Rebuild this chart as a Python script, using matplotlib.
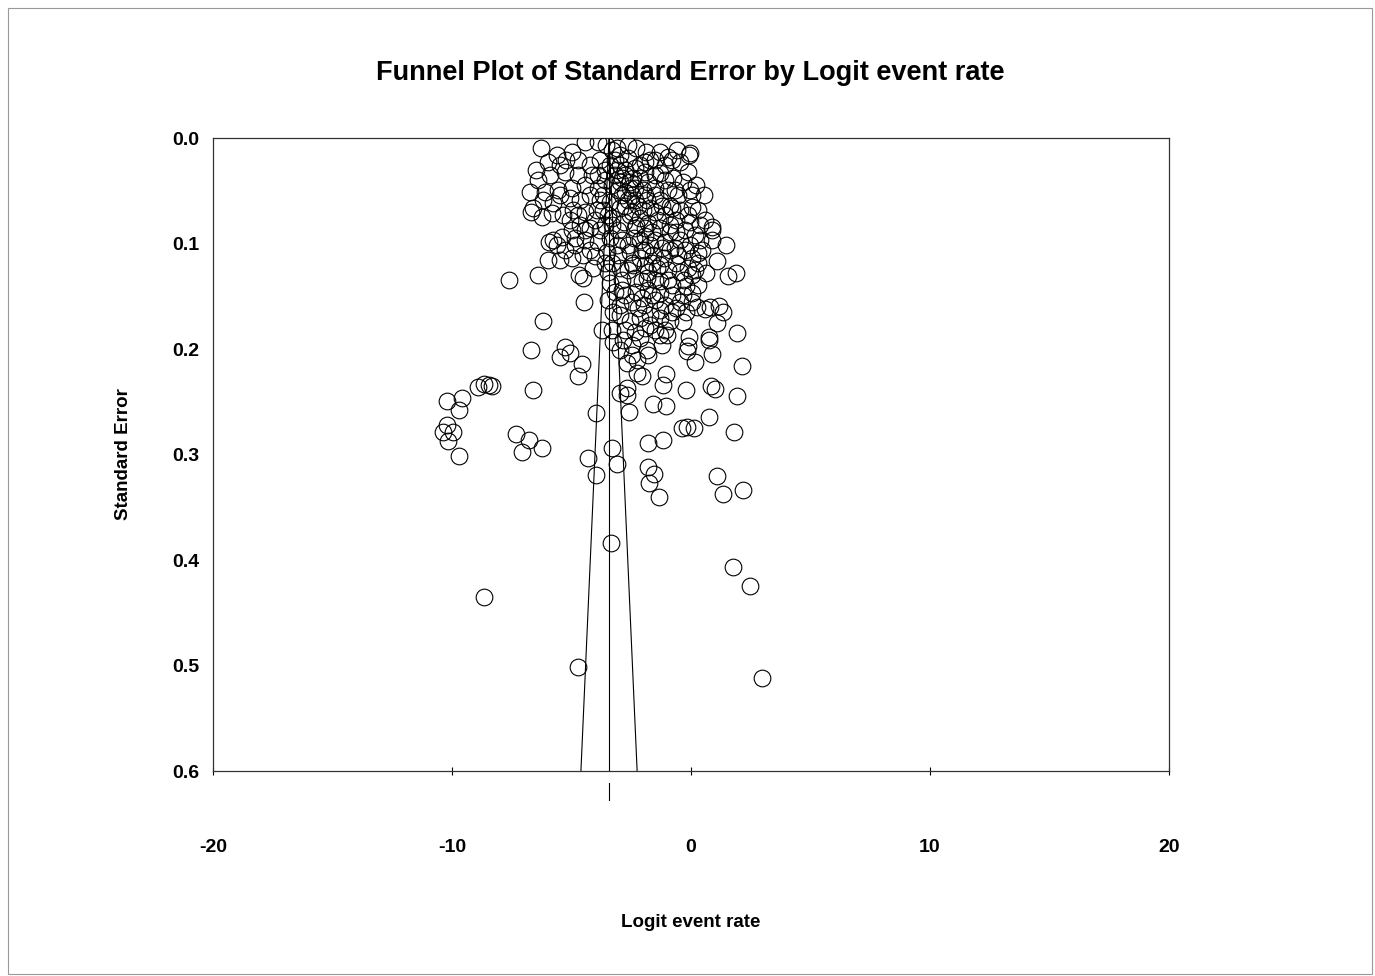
import numpy as np
import matplotlib.pyplot as plt
from matplotlib.patches import Rectangle

plt.rcParams['font.family'] = ['Liberation Sans', 'DejaVu Sans']
plt.rcParams['axes.unicode_minus'] = False

# pooled logit event rate (centre of funnel)
pooled = -3.43

# (logit event rate, standard error)
upper_cloud = [
	(-6.28,0.009),(-4.44,0.004),(-3.89,0.004),(-3.56,0.007),(-3.31,0.011),(-2.64,0.007),(-2.30,0.009),
	(-1.88,0.013),(-1.30,0.013),(-0.59,0.011),(-0.08,0.016),(-4.98,0.013),(-5.61,0.016),(-5.23,0.021),
	(-2.97,0.016),(-1.72,0.021),(-0.79,0.021),(-0.46,0.023),(-0.13,0.032),(-2.13,0.026),(-3.81,0.021),
	(-4.23,0.026),(-4.73,0.021),(-5.48,0.026),(-5.98,0.023),(-6.49,0.030),(-6.40,0.040),(-5.90,0.035),
	(-5.27,0.032),(-4.73,0.035),(-4.14,0.035),(-3.60,0.030),(-3.10,0.030),(-2.76,0.035),(-2.43,0.038),
	(-1.92,0.032),(-1.51,0.035),(-1.09,0.040),(-0.75,0.038),(-0.33,0.042),(0.21,0.045),(0.54,0.054),
	(-0.04,0.049),(-0.54,0.054),(-0.96,0.049),(-1.51,0.047),(-2.01,0.049),(-2.55,0.047),(-2.97,0.042),
	(-3.31,0.045),(-3.89,0.047),(-4.44,0.045),(-4.98,0.047),(-5.56,0.049),(-6.11,0.051),(-6.74,0.051),
	(-6.61,0.066),(-6.69,0.070),(-6.19,0.059),(-5.77,0.062),(-5.48,0.054),(-5.06,0.057),(-4.64,0.059),
	(-4.23,0.054),(-3.81,0.059),(-3.39,0.061),(-2.89,0.054),(-2.34,0.059),(-1.84,0.059),(-1.30,0.059),
	(-0.88,0.064),(-0.46,0.068),(0.04,0.065),(0.59,0.078),(0.88,0.087),(1.46,0.101),(0.88,0.097),
	(0.38,0.082),(-0.04,0.080),(-0.63,0.078),(-1.09,0.073),(-1.51,0.070),(-2.01,0.068),(-2.47,0.070),
	(-2.97,0.066),(-3.47,0.073),(-3.93,0.068),(-4.44,0.070),(-4.94,0.068),(-5.36,0.073),(-5.82,0.071),
	(-6.23,0.075),(-0.96,0.018),(-0.04,0.014),(-1.30,0.033),(0.04,0.054),(-0.79,0.066),(0.88,0.084),
	(-0.25,0.087),
]

middle_cloud = [
	(-5.94,0.099),(-5.77,0.097),(-5.61,0.101),(-5.40,0.094),(-4.98,0.087),(-4.64,0.082),(-4.23,0.085),
	(-3.81,0.087),(-3.31,0.082),(-2.80,0.080),(-2.30,0.082),(-1.80,0.081),(-1.30,0.085),(-0.88,0.089),
	(-0.46,0.097),(-0.04,0.101),(0.46,0.106),(0.29,0.109),(-0.25,0.106),(-0.67,0.104),(-1.09,0.099),
	(-1.51,0.097),(-1.92,0.093),(-2.38,0.095),(-2.89,0.097),(-3.39,0.095),(-3.89,0.099),(-4.44,0.097),
	(-4.85,0.101),(-5.27,0.106),(-5.48,0.116),(-4.98,0.114),(-4.52,0.111),(-4.02,0.112),(-3.51,0.108),
	(-3.05,0.111),(-2.55,0.108),(-2.05,0.106),(-1.59,0.111),(-1.13,0.114),(-0.63,0.118),(-0.13,0.123),
	(0.29,0.118),(0.63,0.128),(1.09,0.117),(1.55,0.131),(1.88,0.128),(0.29,0.139),(0.04,0.130),
	(-0.46,0.127),(-0.96,0.125),(-1.42,0.123),(-1.92,0.120),(-2.43,0.120),(-2.97,0.123),(-3.47,0.127),
	(-4.69,0.130),(-4.52,0.133),(-5.98,0.116),(-6.40,0.130),(-3.39,0.137),(-2.89,0.135),(-2.34,0.133),
	(-1.84,0.133),(-1.30,0.136),(-0.79,0.139),(-0.29,0.135),(0.04,0.147),(-0.33,0.149),(-0.79,0.149),
	(-1.30,0.147),(-1.80,0.144),(-2.30,0.146),(-2.76,0.149),(-3.18,0.146),(-3.47,0.154),(-2.97,0.158),
	(-2.47,0.155),(-1.97,0.158),(-1.51,0.154),(-1.09,0.158),(-0.63,0.161),(-0.21,0.165),(0.25,0.160),
	(0.59,0.162),(0.79,0.160),(1.17,0.159),(1.34,0.165),(1.09,0.175),(-0.33,0.174),(-0.88,0.173),
	(-1.30,0.171),(-1.72,0.168),(-2.13,0.171),(-2.55,0.173),(-2.97,0.168),(-2.76,0.182),(-2.34,0.184),
	(-1.92,0.180),(-1.51,0.182),(-1.09,0.182),(-0.08,0.189),(0.75,0.189),(1.92,0.185),(-4.48,0.155),
	(-6.19,0.173),(-3.72,0.182),(-3.26,0.165),(-7.62,0.135),
]

dense_core = [
	(-3.18,0.021),(-2.97,0.026),(-2.76,0.030),(-3.18,0.035),(-2.89,0.038),(-2.55,0.042),(-3.05,0.049),
	(-2.76,0.051),(-2.47,0.054),(-2.64,0.059),(-2.22,0.064),(-2.76,0.064),(-2.55,0.073),(-2.13,0.076),
	(-2.34,0.085),(-1.92,0.085),(-2.13,0.097),(-1.72,0.101),(-1.92,0.106),(-1.63,0.118),(-2.13,0.114),
	(-1.80,0.127),(-1.51,0.135),(-2.05,0.136),(-1.63,0.149),(-1.30,0.163),(-2.22,0.161),(-2.47,0.118),
	(-2.64,0.101),(-3.05,0.087),(-3.31,0.076),(-2.34,0.047),(-1.92,0.054),(-1.72,0.066),(-1.38,0.078),
	(-1.63,0.089),(-1.30,0.120),(-0.96,0.135),(-0.88,0.106),(-1.21,0.104),(-0.54,0.111),(-0.63,0.089),
	(-0.88,0.082),(-1.21,0.064),(-1.51,0.054),(-1.80,0.042),(-2.13,0.038),(-2.64,0.019),(-3.10,0.009),
	(-3.39,0.026),(-3.60,0.040),(-3.68,0.054),(-3.68,0.068),(-3.60,0.082),(-3.10,0.101),(-2.64,0.125),
	(-2.89,0.144),(-2.05,0.152),(-1.21,0.196),(-1.80,0.206),(-2.47,0.206),(-2.97,0.201),(-3.31,0.182),
	(-1.72,0.177),(-0.79,0.165),(-0.46,0.155),(0.04,0.155),(-0.21,0.140),(0.17,0.125),(0.04,0.114),
	(0.38,0.097),(0.17,0.092),(-0.13,0.073),(0.29,0.068),(-0.67,0.049),(-1.09,0.026),(-1.51,0.021),
	(-1.92,0.023),(-2.34,0.028),(-3.89,0.035),(-4.02,0.078),(-4.44,0.087),(-4.73,0.073),(-5.06,0.078),
	(-4.85,0.095),(-4.23,0.106),(-3.60,0.118),(-4.10,0.123),(-3.31,0.118),
]

lower_cloud = [
	(-3.26,0.193),(-2.85,0.191),(-2.47,0.196),(-2.13,0.190),(-1.84,0.201),(-1.30,0.187),(-1.00,0.187),
	(-0.13,0.197),(-0.17,0.202),(0.75,0.191),(0.88,0.205),(0.17,0.212),(2.13,0.216),(-4.56,0.214),
	(-2.68,0.213),(-2.26,0.210),(-2.26,0.223),(-2.05,0.226),(-1.05,0.224),(-1.17,0.234),(-0.21,0.239),
	(0.84,0.235),(1.00,0.238),(1.92,0.245),(-2.68,0.237),(-2.97,0.242),(-2.68,0.244),(-3.97,0.261),
	(-2.59,0.260),(-1.59,0.252),(-1.05,0.254),(0.75,0.264),(-0.38,0.275),(-0.17,0.274),(0.13,0.275),
	(1.80,0.279),(-1.80,0.289),(-1.17,0.286),(-3.31,0.294),(-4.31,0.303),(-3.10,0.309),(-3.97,0.319),
	(-1.80,0.312),(-1.55,0.318),(-1.76,0.327),(-1.34,0.340),(1.09,0.320),(1.34,0.337),(2.18,0.334),
	(-5.48,0.208),(-5.27,0.198),(-5.06,0.204),(-4.73,0.226),(-6.69,0.201),(-6.61,0.239),
]

outliers = [
	(-8.91,0.236),(-8.66,0.233),(-8.45,0.234),(-8.33,0.235),(-10.21,0.249),(-9.58,0.246),(-9.71,0.258),
	(-10.21,0.272),(-9.96,0.279),(-10.38,0.279),(-10.17,0.287),(-9.71,0.301),(-7.32,0.281),(-6.78,0.286),
	(-7.07,0.298),(-6.23,0.294),(-8.66,0.435),(-4.73,0.501),(2.97,0.512),(2.47,0.425),(1.76,0.407),
	(-3.35,0.384),
]

studies=np.array(upper_cloud+middle_cloud+dense_core+lower_cloud+outliers)

fig=plt.figure(figsize=(13.75,9.76),dpi=100)
ax=fig.add_axes([0.1549,0.21,0.6953,0.6486])

ax.plot(studies[:,0],studies[:,1],'o',mfc='none',mec='black',mew=0.8,ms=12,zorder=3)

# funnel: pooled estimate +/- 1.96 SE
se_max=0.6
ax.plot([pooled,pooled],[0,se_max],color='black',lw=0.8,zorder=2)
ax.plot([pooled,pooled-1.96*se_max],[0,se_max],color='black',lw=0.8,zorder=2)
ax.plot([pooled,pooled+1.96*se_max],[0,se_max],color='black',lw=0.8,zorder=2)
ax.plot([pooled,pooled],[0.611,0.627],color='black',lw=0.8,clip_on=False)

ax.set_xlim(-20,20)
ax.set_ylim(0.6,0)
ax.set_xticks([-20,-10,0,10,20])
ax.set_yticks([0.0,0.1,0.2,0.3,0.4,0.5,0.6])
ax.set_yticklabels(['0.0','0.1','0.2','0.3','0.4','0.5','0.6'])
ax.tick_params(axis='x',direction='inout',length=6,width=0.8,pad=46,labelsize=14)
ax.tick_params(axis='y',length=0,pad=10,labelsize=14)
for lab in ax.get_xticklabels()+ax.get_yticklabels():
	lab.set_fontweight('bold')
for sp in ax.spines.values():
	sp.set_linewidth(0.9)
	sp.set_color('#333333')

ax.set_xlabel('Logit event rate',fontsize=13.5,fontweight='bold',labelpad=42)
ax.set_ylabel('Standard Error',fontsize=13.5,fontweight='bold',labelpad=29)
fig.text(0.502,0.925,'Funnel Plot of Standard Error by Logit event rate',ha='center',va='center',fontsize=19.5,fontweight='bold')

fig.patches.append(Rectangle((0.006,0.002),0.992,0.99,transform=fig.transFigure,fill=False,edgecolor='#999999',lw=0.8))

plt.savefig('out.png',dpi=100)
